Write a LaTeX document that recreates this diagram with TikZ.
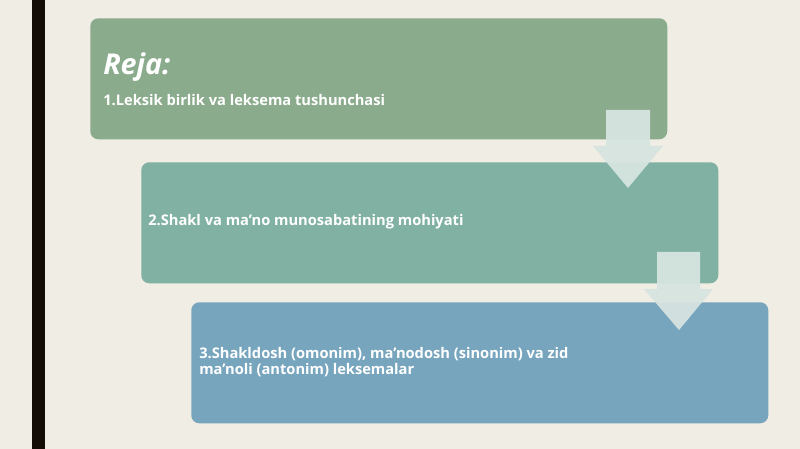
\documentclass[tikz,border=0pt]{standalone}
\usepackage{fontspec}
\setmainfont{Open Sans}
\usetikzlibrary{positioning,calc}
\definecolor{bgc}{HTML}{EFEDE4}
\definecolor{boxa}{HTML}{8BAB8D}
\definecolor{boxb}{HTML}{80B1A2}
\definecolor{boxc}{HTML}{77A5BE}
\definecolor{arw}{HTML}{D6E4E0}
\begin{document}
\begin{tikzpicture}[
		x=0.75pt, y=-0.75pt,
		box/.style={rounded corners=6pt, inner sep=0pt, anchor=north west, minimum height=121*0.75pt, minimum width=577*0.75pt},
		txt/.style={anchor=west, text=white, font=\bfseries\fontsize{11}{11.5}\selectfont, align=left, inner sep=0pt},
		blk/.style={fill=arw, draw=none, opacity=0.95}]
	\useasboundingbox (0,0) rectangle (800,449);
	\fill[bgc] (0,0) rectangle (800,449);
	\fill[black!90!brown] (32,0) rectangle (45,449);
	% boxes
	\path 	(90,18) 	node 	(b1) [box, fill=boxa] {}
	        (141,162) 	node 	(b2) [box, fill=boxb] {}
	        (191,302) 	node 	(b3) [box, fill=boxc] {};
	% arrows
	\path[blk] (606,110) -- (650,110) -- (650,146) -- (663,146) -- (628,188) -- (593,146) -- (606,146) -- cycle;
	\path[blk] (657,252) -- (700,252) -- (700,289) -- (713,289) -- (679,330) -- (644,289) -- (657,289) -- cycle;
	% texts
	\node (reja) [txt, font=\bfseries\itshape\fontsize{21.5}{22}\selectfont] at (103,67) {Reja:};
	\node (t1) [txt] at (103,100) {1.Leksik birlik va leksema tushunchasi};
	\node (t2) [txt] at (148,222) {2.Shakl va ma'no munosabatining mohiyati};
	\node (t3) [txt] at (199,362) {3.Shakldosh (omonim), ma'nodosh (sinonim) va zid\\ma'noli (antonim) leksemalar};
\end{tikzpicture}
\end{document}
